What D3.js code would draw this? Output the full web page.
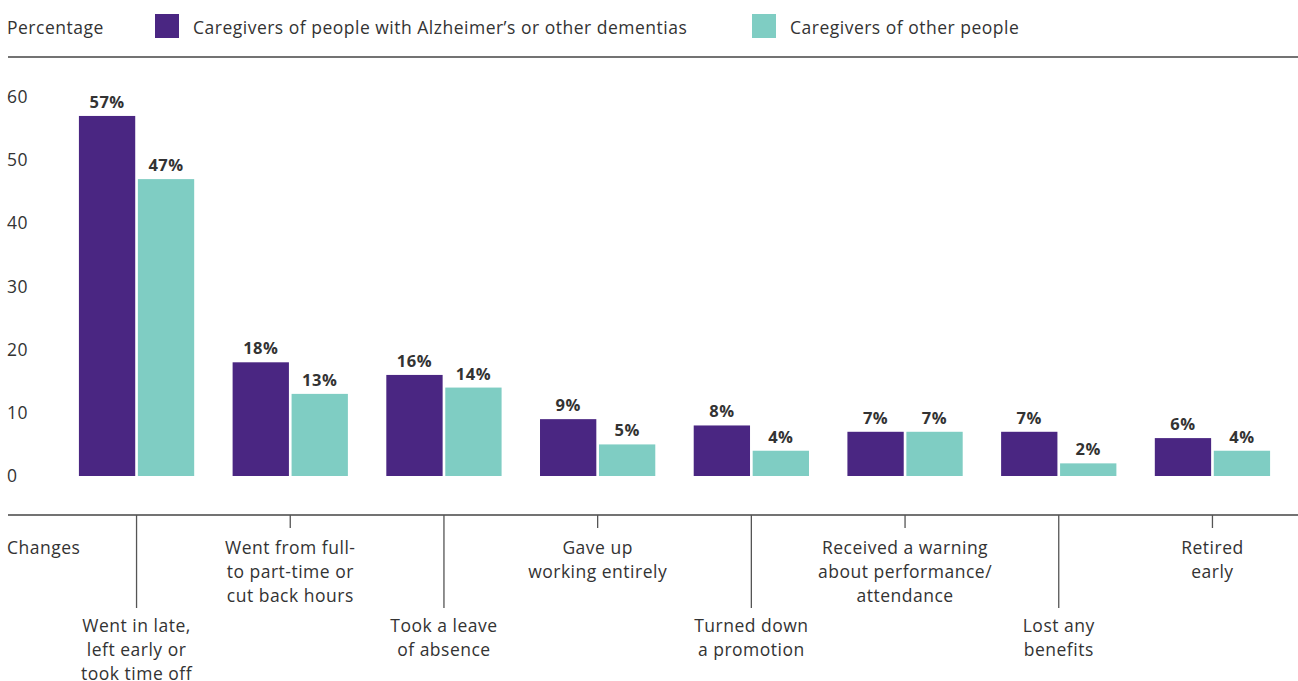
<!DOCTYPE html>
<html>
<head>
<meta charset="utf-8">
<script src="https://cdn.jsdelivr.net/npm/d3@7"></script>
<style>
  body { margin: 0; background: #fff; }
  text { font-family: "Open Sans", Lato, sans-serif; fill: #333; letter-spacing: 0.5px; }
</style>
</head>
<body>
<div class="chart-area"></div>
<script>
// data
let categories = [
  ["Went in late,", "left early or", "took time off"],
  ["Went from full-", "to part-time or", "cut back hours"],
  ["Took a leave", "of absence"],
  ["Gave up", "working entirely"],
  ["Turned down", "a promotion"],
  ["Received a warning", "about performance/", "attendance"],
  ["Lost any", "benefits"],
  ["Retired", "early"]
];
let alzValues = [57, 18, 16, 9, 8, 7, 7, 6];
let otherValues = [47, 13, 14, 5, 4, 7, 2, 4];
let seriesNames = ["Caregivers of people with Alzheimer\u2019s or other dementias", "Caregivers of other people"];
let yTicks = [0, 10, 20, 30, 40, 50, 60];

let outerWidth = 1298, outerHeight = 681;
let colors = ["#4a2682", "#7fcdc3"];
let fs = 17.5;

let svg = d3.select('.chart-area').append('svg')
    .attr('width', outerWidth)
    .attr('height', outerHeight);

let idx = d3.range(categories.length);

let xScale = d3.scaleBand()
    .domain(idx)
    .range([59.7, 1289.3])
    .paddingInner(0.25)
    .paddingOuter(0.125);

let xInner = d3.scaleBand()
    .domain([0, 1])
    .range([0, xScale.bandwidth()])
    .paddingInner(0.045);

let yScale = d3.scaleLinear()
    .domain([0, 60])
    .range([476, 97]);

// header: legend + rule
svg.append("text")
    .attr("x", 7).attr("y", 34)
    .attr("font-size", fs)
    .text("Percentage");

let legendX = [155, 752];
seriesNames.forEach((name, i) => {
    svg.append("rect")
        .attr("x", legendX[i]).attr("y", 14)
        .attr("width", 24).attr("height", 24)
        .attr("fill", colors[i]);
    svg.append("text")
        .attr("x", legendX[i] + 38).attr("y", 34)
        .attr("font-size", fs)
        .text(name);
});

svg.append("line")
    .attr("x1", 8).attr("x2", outerWidth)
    .attr("y1", 57).attr("y2", 57)
    .attr("stroke", "#444").attr("stroke-width", 1.5);

// y tick labels, left aligned
svg.selectAll("text.ytick")
    .data(yTicks)
    .enter()
    .append("text")
    .attr("class", "ytick")
    .attr("x", 7)
    .attr("y", d => yScale(d))
    .attr("dy", "0.35em")
    .attr("font-size", fs)
    .text(d => d);

// bars
let groups = svg.selectAll("g.group")
    .data(idx)
    .enter()
    .append("g")
    .attr("class", "group")
    .attr("transform", i => `translate(${xScale(i)},0)`);

groups.each(function(i) {
    let g = d3.select(this);
    let vals = [alzValues[i], otherValues[i]];
    vals.forEach((v, s) => {
        g.append("rect")
            .attr("x", xInner(s))
            .attr("y", yScale(v))
            .attr("width", xInner.bandwidth())
            .attr("height", yScale(0) - yScale(v))
            .attr("fill", colors[s]);
        g.append("text")
            .attr("x", xInner(s) + xInner.bandwidth() / 2)
            .attr("y", yScale(v) - 8)
            .attr("text-anchor", "middle")
            .attr("font-size", 16.5)
            .attr("font-weight", "bold")
            .attr("fill", "#222")
            .text(v + "%");
    });
});

// bottom category axis
let axisY = 515;
svg.append("line")
    .attr("x1", 8).attr("x2", outerWidth)
    .attr("y1", axisY).attr("y2", axisY)
    .attr("stroke", "#444").attr("stroke-width", 1.5);

svg.append("text")
    .attr("x", 7).attr("y", 554)
    .attr("font-size", fs)
    .text("Changes");

idx.forEach(i => {
    let cx = xScale(i) + xScale.bandwidth() / 2;
    let low = i % 2 === 0;
    let tickLen = low ? 93 : 13;
    svg.append("line")
        .attr("x1", cx).attr("x2", cx)
        .attr("y1", axisY).attr("y2", axisY + tickLen)
        .attr("stroke", "#555").attr("stroke-width", 1.3);
    let firstLine = low ? 632 : 554;
    svg.append("g")
        .selectAll("text")
        .data(categories[i])
        .enter()
        .append("text")
        .attr("x", cx)
        .attr("y", (d, k) => firstLine + k * 24)
        .attr("text-anchor", "middle")
        .attr("font-size", fs)
        .text(d => d);
});
</script>
</body>
</html>
